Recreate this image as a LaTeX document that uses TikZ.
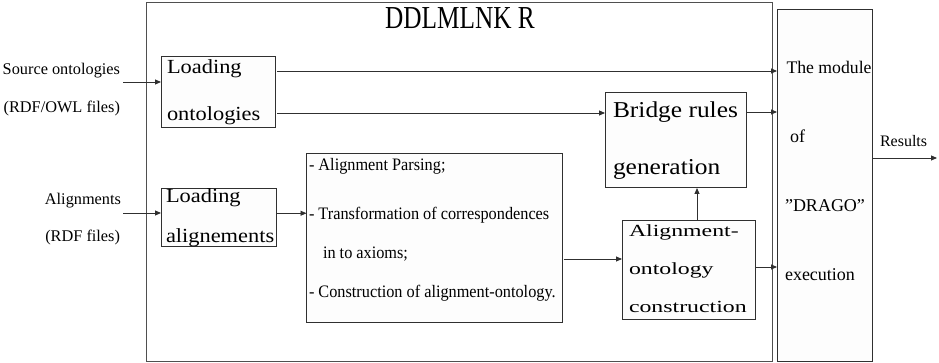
\documentclass[tikz,border=0pt]{standalone}
\usepackage{fontspec}
\setmainfont{Liberation Serif}
\newfontfamily\titlefont[FakeStretch=0.79]{Liberation Serif}
\newfontfamily\midfont[FakeStretch=0.93]{Liberation Serif}
\newfontfamily\loadfont[FakeStretch=1.12]{Liberation Serif}
\newfontfamily\aofont[FakeStretch=1.4]{Liberation Serif}
\usetikzlibrary{arrows.meta}
\definecolor{linec}{HTML}{303030}
\definecolor{boxfill}{HTML}{FDFDFD}
\tikzset{
  boxst/.style={draw=linec, fill=boxfill, line width=1pt, inner sep=0pt, outer sep=0pt},
  arr/.style={draw=linec, line width=0.9pt, -{Triangle[length=6pt,width=5pt]}},
  txt/.style={inner sep=0pt, outer sep=0pt, anchor=base west, text=black},
  txte/.style={inner sep=0pt, outer sep=0pt, anchor=base east, text=black},
}
\begin{document}
\begin{tikzpicture}[x=1pt,y=-1pt]
\useasboundingbox (0,0) rectangle (939,363);
% outer module
\node[boxst, fill=white, draw=linec!85, minimum width=626pt, minimum height=358.5pt] (outer) at (459,182.25) {};
\node[inner sep=0pt, anchor=base] (title) at (460,29) {\titlefont\fontsize{32}{32}\selectfont DDLMLNK R};
% boxes
\node[boxst, minimum width=114pt, minimum height=71pt] (Lo) at (218,92.5) {};
\node[boxst, minimum width=115pt, minimum height=58.5pt] (La) at (218.5,217.75) {};
\node[boxst, minimum width=255.5pt, minimum height=168pt] (Mid) at (434.25,238) {};
\node[boxst, minimum width=141pt, minimum height=95pt] (Br) at (675.5,140.5) {};
\node[boxst, minimum width=133pt, minimum height=98pt] (AO) at (688.5,270) {};
\node[boxst, minimum width=95.5pt, minimum height=351.5pt] (DR) at (824.75,185.75) {};
% side texts
\node[txte] (src1) at (120,75) {\fontsize{16.3}{16.3}\selectfont Source ontologies};
\node[txte] (src2) at (120,112.5) {\fontsize{16.3}{16.3}\selectfont (RDF/OWL files)};
\node[txte] (al1) at (121,205) {\fontsize{16.3}{16.3}\selectfont Alignments};
\node[txte] (al2) at (120,241.5) {\fontsize{16.3}{16.3}\selectfont (RDF files)};
% box texts
\node[txt] (lo1t) at (167,73.3) {\loadfont\fontsize{20}{20}\selectfont Loading};
\node[txt] (lo2t) at (167,121) {\loadfont\fontsize{20}{20}\selectfont ontologies};
\node[txt] (la1t) at (166,203) {\loadfont\fontsize{20}{20}\selectfont Loading};
\node[txt] (la2t) at (166,242.5) {\loadfont\fontsize{20}{20}\selectfont alignements};
\node[txt] (m1) at (309,170.5) {\midfont\fontsize{17.5}{17.5}\selectfont - Alignment Parsing;};
\node[txt] (m2) at (309,219.5) {\midfont\fontsize{17.5}{17.5}\selectfont - Transformation of correspondences};
\node[txt] (m3) at (323,258.5) {\midfont\fontsize{17.5}{17.5}\selectfont in to axioms;};
\node[txt] (m4) at (309,297.5) {\midfont\fontsize{17.5}{17.5}\selectfont - Construction of alignment-ontology.};
\node[txt] (b1) at (613,118) {\loadfont\fontsize{22.7}{22.7}\selectfont Bridge rules};
\node[txt] (b2) at (613,175) {\loadfont\fontsize{22.7}{22.7}\selectfont generation};
\node[txt] (a1) at (629,237) {\aofont\fontsize{17}{17}\selectfont Alignment-};
\node[txt] (a2) at (629,275) {\aofont\fontsize{17}{17}\selectfont ontology};
\node[txt] (a3) at (629,312) {\aofont\fontsize{17}{17}\selectfont construction};
\node[txt] (d1) at (786.5,74) {\fontsize{17.7}{17.7}\selectfont The module};
\node[txt] (d2) at (790,142.7) {\fontsize{18}{18}\selectfont of};
\node[txt] (d3) at (785,211.7) {\fontsize{18}{18}\selectfont \symbol{34}DRAGO\symbol{34}};
\node[txt] (d4) at (785,280) {\fontsize{18}{18}\selectfont execution};
\node[txt] (res) at (880,146.7) {\fontsize{16}{16}\selectfont Results};
% connectors
\coordinate (srcin) at (123,82);
\draw[arr] (srcin) -- (srcin -| Lo.west);
\coordinate (alin) at (123,213);
\draw[arr] (alin) -- (alin -| La.west);
\coordinate (lo1) at ([yshift=21.5pt,xshift=2pt]Lo.east);
\draw[arr] (lo1) -- (lo1 -| DR.west);
\coordinate (lo2) at ([yshift=-20.5pt,xshift=2pt]Lo.east);
\draw[arr] (lo2) -- (lo2 -| Br.west);
\coordinate (la1) at ([yshift=4.5pt]La.east);
\draw[arr] (la1) -- (la1 -| Mid.west);
\coordinate (mid1) at ([yshift=-21pt,xshift=1.5pt]Mid.east);
\draw[arr] (mid1) -- (mid1 -| AO.west);
\coordinate (ao1) at ([xshift=8.5pt]AO.north);
\draw[arr] (ao1) -- (ao1 |- Br.south);
\coordinate (br1) at ([yshift=28.5pt]Br.east);
\draw[arr] (br1) -- (br1 -| DR.west);
\coordinate (ao2) at ([yshift=3pt]AO.east);
\draw[arr] (ao2) -- (ao2 -| DR.west);
\coordinate (resend) at (937,158);
\coordinate (dr1) at ([yshift=27.75pt]DR.east);
\draw[arr] (dr1) -- (dr1 -| resend);
\end{tikzpicture}
\end{document}
